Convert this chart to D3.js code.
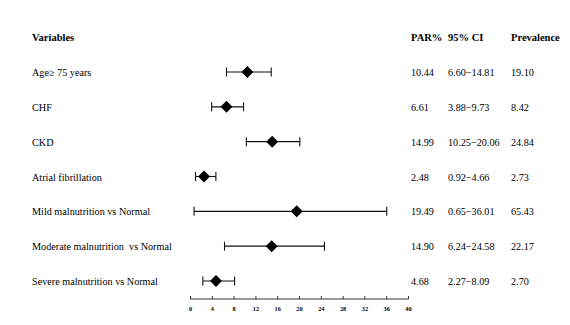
<!DOCTYPE html>
<html><head><meta charset="utf-8">
<script src="https://cdn.jsdelivr.net/npm/d3@7"></script>
<style>body{margin:0;background:#fff}svg{display:block}text{font-family:"Liberation Serif","Times New Roman",serif;fill:#000;white-space:pre}</style>
</head><body><svg id="c" width="570" height="325"></svg>
<script>
const variables = ["Age\u2265 75 years","CHF","CKD","Atrial fibrillation","Mild malnutrition vs Normal","Moderate malnutrition  vs Normal","Severe malnutrition vs Normal"];
const par = [10.44, 6.61, 14.99, 2.48, 19.49, 14.90, 4.68];
const ciLow = [6.60, 3.88, 10.25, 0.92, 0.65, 6.24, 2.27];
const ciHigh = [14.81, 9.73, 20.06, 4.66, 36.01, 24.58, 8.09];
const prevalence = [19.10, 8.42, 24.84, 2.73, 65.43, 22.17, 2.70];
const parLabels = ["10.44","6.61","14.99","2.48","19.49","14.90","4.68"];
const ciLabels = ["6.60\u221214.81","3.88\u22129.73","10.25\u221220.06","0.92\u22124.66","0.65\u221236.01","6.24\u221224.58","2.27\u22128.09"];
const prevLabels = ["19.10","8.42","24.84","2.73","65.43","22.17","2.70"];
const xTicks = [0,4,8,12,16,20,24,28,32,36,40];

const svg = d3.select("#c");
const x = d3.scaleLinear().domain([0,40]).range([190.5,408.5]);
const y = d3.scalePoint().domain(d3.range(variables.length)).range([72,281]);

// header
const hdr = svg.append("g").attr("font-weight","bold").attr("font-size",10.5);
hdr.append("text").attr("x",32).attr("y",41).text("Variables");
hdr.append("text").attr("x",411).attr("y",41).text("PAR%");
hdr.append("text").attr("x",448).attr("y",41).text("95% CI");
hdr.append("text").attr("x",511).attr("y",41).text("Prevalence");

const rows = svg.append("g").selectAll("g").data(variables).join("g")
  .attr("transform",(d,i)=>`translate(0,${y(i)})`);
rows.append("text").attr("x",32).attr("y",4).attr("font-size",10.2).text(d=>d);
rows.append("text").attr("x",411).attr("y",4).attr("font-size",10.2).text((d,i)=>parLabels[i]);
rows.append("text").attr("x",448).attr("y",4).attr("font-size",10.2).text((d,i)=>ciLabels[i]);
rows.append("text").attr("x",511).attr("y",4).attr("font-size",10.2).text((d,i)=>prevLabels[i]);

// CI lines
rows.append("line").attr("x1",(d,i)=>x(ciLow[i])).attr("x2",(d,i)=>x(ciHigh[i]))
  .attr("stroke","#111").attr("stroke-width",1.1);
rows.append("line").attr("x1",(d,i)=>x(ciLow[i])).attr("x2",(d,i)=>x(ciLow[i]))
  .attr("y1",-4.5).attr("y2",4.5).attr("stroke","#111").attr("stroke-width",1.1);
rows.append("line").attr("x1",(d,i)=>x(ciHigh[i])).attr("x2",(d,i)=>x(ciHigh[i]))
  .attr("y1",-4.5).attr("y2",4.5).attr("stroke","#111").attr("stroke-width",1.1);
rows.append("path").attr("d",(d,i)=>{const cx=x(par[i]);return `M${cx-6},0L${cx},-6L${cx+6},0L${cx},6Z`;})
  .attr("fill","#000");

// axis
const ax = svg.append("g").attr("transform","translate(0,299)");
ax.append("line").attr("x1",x(0)).attr("x2",x(40)).attr("stroke","#333").attr("stroke-width",1.2);
ax.selectAll("line.t").data(xTicks).join("line").attr("class","t")
  .attr("x1",d=>x(d)).attr("x2",d=>x(d)).attr("y1",0).attr("y2",-3).attr("stroke","#333");
ax.selectAll("text").data(xTicks).join("text").attr("x",d=>x(d)).attr("y",12)
  .attr("text-anchor","middle").attr("font-size",6.3).attr("font-weight","bold").text(d=>d);
</script></body></html>
